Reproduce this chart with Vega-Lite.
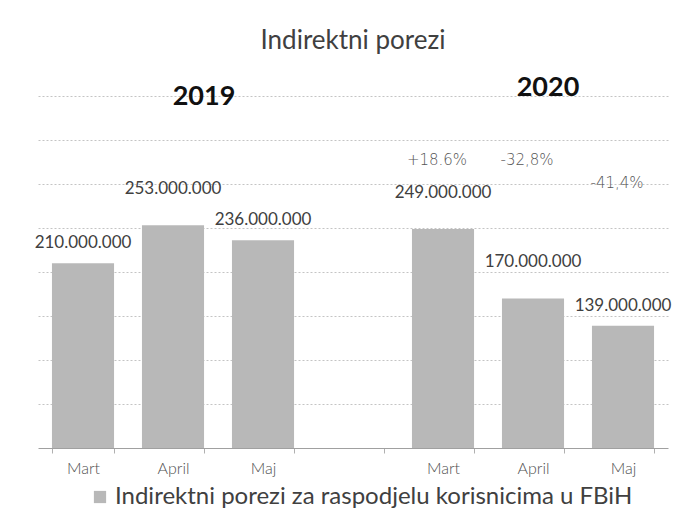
{
  "$schema": "https://vega.github.io/schema/vega-lite/v6.json",
  "width": 630,
  "height": 352,
  "autosize": "none",
  "padding": {"left": 38, "top": 96, "right": 20, "bottom": 69},
  "background": "white",
  "config": {"view": {"stroke": null}, "font": "Lato", "text": {"font": "Lato"}},
  "title": {"text": "Indirektni porezi", "fontSize": 26, "font": "Lato", "fontWeight": "normal", "color": "#404040", "anchor": "middle", "offset": 20},
  "data": {
    "values": [
      {"cat": "Mart 2019", "value": 210000000, "label": "210.000.000", "series": "Indirektni porezi za raspodjelu korisnicima u FBiH"},
      {"cat": "April 2019", "value": 253000000, "label": "253.000.000", "series": "Indirektni porezi za raspodjelu korisnicima u FBiH", "year": "2019"},
      {"cat": "Maj 2019", "value": 236000000, "label": "236.000.000", "series": "Indirektni porezi za raspodjelu korisnicima u FBiH"},
      {"cat": "Mart 2020", "value": 249000000, "label": "249.000.000", "series": "Indirektni porezi za raspodjelu korisnicima u FBiH", "pct": "+18.6%"},
      {"cat": "April 2020", "value": 170000000, "label": "170.000.000", "series": "Indirektni porezi za raspodjelu korisnicima u FBiH", "pct": "-32,8%", "year": "2020"},
      {"cat": "Maj 2020", "value": 139000000, "label": "139.000.000", "series": "Indirektni porezi za raspodjelu korisnicima u FBiH", "pct": "-41,4%"}
    ]
  },
  "encoding": {
    "x": {
      "field": "cat",
      "type": "nominal",
      "sort": null,
      "scale": {"domain": ["Mart 2019", "April 2019", "Maj 2019", "gap", "Mart 2020", "April 2020", "Maj 2020"], "paddingInner": 0.31, "paddingOuter": 0.155},
      "axis": {
        "title": null,
        "labelExpr": "split(datum.label, ' ')[0] == 'gap' ? '' : split(datum.label, ' ')[0]",
        "labelAngle": 0,
        "tickBand": "extent",
        "ticks": true,
        "tickColor": "#b0b0b0",
        "tickSize": 5,
        "domainColor": "#a0a0a0",
        "labelFontSize": 16,
        "labelFontWeight": 300,
        "labelColor": "#505050",
        "labelPadding": 7,
        "grid": false
      }
    },
    "y": {
      "field": "value",
      "type": "quantitative",
      "scale": {"domain": [0, 400000000]},
      "axis": {
        "title": null,
        "values": [50000000, 100000000, 150000000, 200000000, 250000000, 300000000, 350000000, 400000000],
        "labels": false,
        "ticks": false,
        "domain": false,
        "grid": true,
        "gridColor": "#c4c4c4",
        "gridDash": [2, 2],
        "gridWidth": 1
      }
    }
  },
  "layer": [
    {
      "mark": {"type": "bar"},
      "encoding": {
        "color": {
          "field": "series",
          "type": "nominal",
          "scale": {"range": ["#b8b8b8"]},
          "legend": {
            "title": null,
            "orient": "none",
            "legendX": 50,
            "legendY": 389,
            "direction": "horizontal",
            "labelFontSize": 24,
            "labelLimit": 0,
            "labelColor": "#404040",
            "labelFont": "Lato",
            "symbolType": "square",
            "symbolSize": 150,
            "symbolStrokeWidth": 0,
            "labelOffset": 3
          }
        }
      }
    },
    {
      "transform": [{"filter": {"field": "cat", "oneOf": ["Mart 2019", "Maj 2019", "Maj 2020"]}}],
      "mark": {"type": "text", "fontSize": 17, "color": "#404040", "baseline": "middle", "dy": -20},
      "encoding": {"text": {"field": "label"}}
    },
    {
      "transform": [{"filter": {"field": "cat", "oneOf": ["April 2019", "Mart 2020", "April 2020"]}}],
      "mark": {"type": "text", "fontSize": 17, "color": "#404040", "baseline": "middle", "dy": -36},
      "encoding": {"text": {"field": "label"}}
    },
    {
      "transform": [{"filter": {"field": "cat", "oneOf": ["Mart 2020", "April 2020"]}}],
      "mark": {"type": "text", "fontSize": 15, "color": "#555555", "baseline": "middle", "dx": -6, "font": "DejaVu Sans", "fontWeight": 200},
      "encoding": {"text": {"field": "pct"}, "y": {"datum": 327000000, "type": "quantitative"}}
    },
    {
      "transform": [{"filter": {"field": "cat", "equal": "Maj 2020"}}],
      "mark": {"type": "text", "fontSize": 15, "color": "#555555", "baseline": "middle", "dx": -6, "font": "DejaVu Sans", "fontWeight": 200},
      "encoding": {"text": {"field": "pct"}, "y": {"datum": 301000000, "type": "quantitative"}}
    },
    {
      "transform": [{"filter": {"field": "cat", "equal": "April 2019"}}],
      "mark": {"type": "text", "fontSize": 27, "fontWeight": "bold", "color": "#111111", "baseline": "middle", "dx": 31},
      "encoding": {"text": {"field": "year"}, "y": {"datum": 399000000, "type": "quantitative"}}
    },
    {
      "transform": [{"filter": {"field": "cat", "equal": "April 2020"}}],
      "mark": {"type": "text", "fontSize": 27, "fontWeight": "bold", "color": "#111111", "baseline": "middle", "dx": 15},
      "encoding": {"text": {"field": "year"}, "y": {"datum": 409000000, "type": "quantitative"}}
    }
  ]
}
